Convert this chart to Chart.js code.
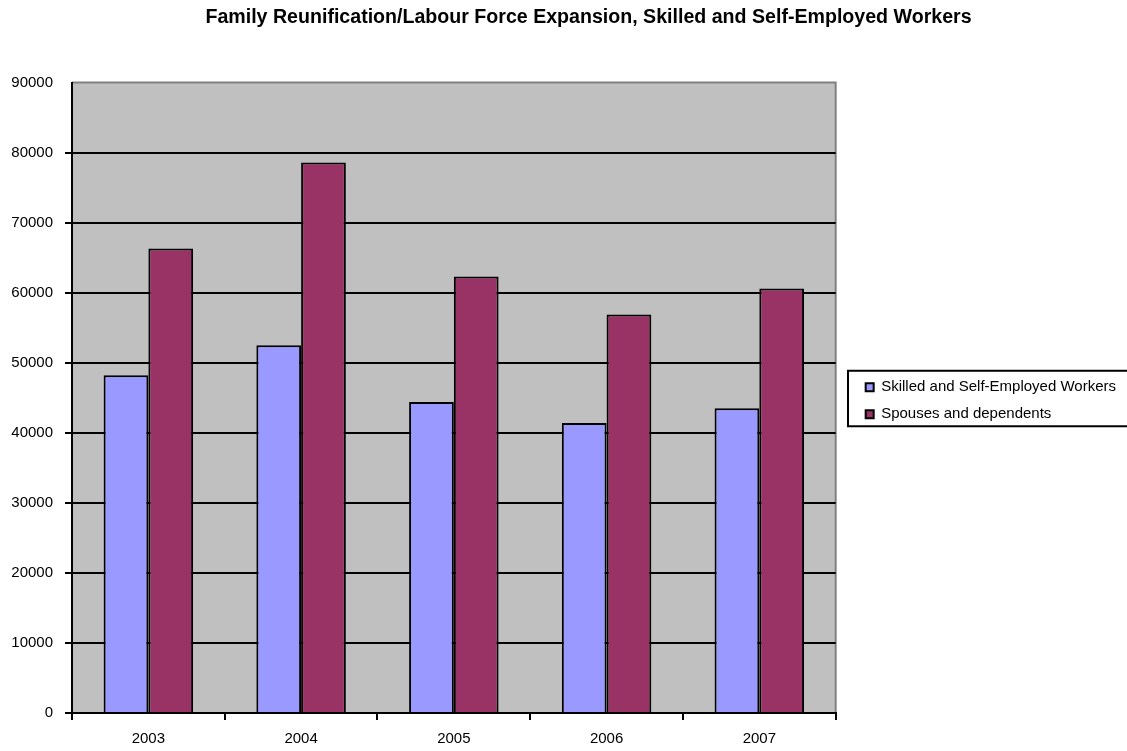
<!DOCTYPE html>
<html>
<head>
<meta charset="utf-8">
<script src="https://cdn.jsdelivr.net/npm/chart.js@4/dist/chart.umd.min.js"></script>
<style>
  html, body { margin: 0; padding: 0; background: #fff; }
  #wrap { width: 1127px; height: 751px; }
</style>
</head>
<body>
<div id="wrap"><canvas id="chart" width="1127" height="751"></canvas></div>
<script>
const years = ["2003", "2004", "2005", "2006", "2007"];
const skilled = [48200, 52500, 44400, 41400, 43500];
const spouses = [66300, 78600, 62300, 56900, 60600];

// grey plot area with a grey frame on top and right
const plotBg = {
    id: "plotBg",
    beforeDraw(chart) {
        const { ctx, chartArea: a } = chart;
        ctx.save();
        ctx.fillStyle = "#c0c0c0";
        ctx.fillRect(a.left, a.top, a.right - a.left, a.bottom - a.top);
        ctx.strokeStyle = "#808080";
        ctx.lineWidth = 2;
        ctx.beginPath();
        ctx.moveTo(a.left, a.top);
        ctx.lineTo(a.right, a.top);
        ctx.lineTo(a.right, a.bottom);
        ctx.stroke();
        ctx.restore();
    }
};

// title centre a bit right, legend next to the plot and centred on it
const nudge = {
    id: "nudge",
    afterLayout(chart) {
        chart.titleBlock.left = 50;
        chart.titleBlock.right = 1127;
        const lg = chart.legend, a = chart.chartArea;
        lg.left += 18;
        lg.right += 18;
        lg.top = a.top + 3;
        lg.bottom = a.bottom + 3;
        lg.height = lg.bottom - lg.top;
    }
};

// frame round the legend items
const legendBox = {
    id: "legendBox",
    afterDraw(chart) {
        const boxes = chart.legend.legendHitBoxes;
        if (!boxes || !boxes.length) return;
        const first = boxes[0], last = boxes[boxes.length - 1];
        const top = first.top + first.height / 2 - 16.5;
        const bottom = last.top + last.height / 2 + 12;
        const ctx = chart.ctx;
        ctx.save();
        ctx.strokeStyle = "#000";
        ctx.lineWidth = 2;
        ctx.strokeRect(848, top, 290, bottom - top);
        ctx.restore();
    }
};

new Chart(document.getElementById("chart"), {
    type: "bar",
    data: {
        labels: years,
        datasets: [{
            label: "Skilled and Self-Employed Workers",
            data: skilled,
            backgroundColor: "#9999ff",
            borderColor: "#000",
            borderWidth: 2,
            borderSkipped: "bottom"
        }, {
            label: "Spouses and dependents",
            data: spouses,
            backgroundColor: "#993366",
            borderColor: "#000",
            borderWidth: 2,
            borderSkipped: "bottom"
        }]
    },
    options: {
        responsive: false,
        animation: false,
        devicePixelRatio: 1,
        layout: { padding: { top: 0, left: 0, right: 19, bottom: 0 } },
        datasets: { bar: { categoryPercentage: 0.586, barPercentage: 1 } },
        plugins: {
            title: {
                display: true,
                text: "Family Reunification/Labour Force Expansion, Skilled and Self-Employed Workers",
                color: "#000",
                font: { family: "Liberation Sans", size: 19.6, weight: "bold" },
                padding: { top: 6, bottom: 53 }
            },
            legend: {
                position: "right",
                labels: {
                    color: "#000",
                    font: { family: "Liberation Sans", size: 15 },
                    boxWidth: 8,
                    boxHeight: 8,
                    padding: 12,
                    generateLabels(chart) {
                        return chart.data.datasets.map((d, i) => ({
                            text: d.label,
                            fillStyle: d.backgroundColor,
                            strokeStyle: "#000",
                            lineWidth: 2,
                            datasetIndex: i,
                            fontColor: "#000"
                        }));
                    }
                },
                onClick: null
            },
            tooltip: { enabled: false }
        },
        scales: {
            x: {
                offset: true,
                grid: {
                    offset: true,
                    drawOnChartArea: false,
                    color: "#000",
                    lineWidth: 2,
                    tickLength: 7
                },
                border: { color: "#000", width: 2 },
                ticks: {
                    color: "#000",
                    font: { family: "Liberation Sans", size: 15 },
                    padding: 10
                },
                afterFit(s) { s.height = 38; }
            },
            y: {
                min: 0,
                max: 90000,
                grid: {
                    color: (c) => c.tick && c.tick.value === 90000 ? "rgba(0,0,0,0)" : "#000",
                    lineWidth: 2,
                    tickLength: 7
                },
                border: { color: "#000", width: 2 },
                ticks: {
                    stepSize: 10000,
                    color: "#000",
                    font: { family: "Liberation Sans", size: 15 },
                    padding: 12,
                    callback: (v) => String(v)
                },
                afterFit(s) { s.width = 72; }
            }
        }
    },
    plugins: [plotBg, nudge, legendBox]
});
</script>
</body>
</html>
